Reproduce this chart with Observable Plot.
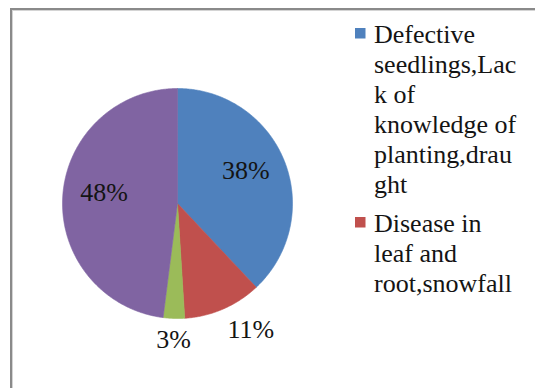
<!DOCTYPE html>
<html>
<head>
<meta charset="utf-8">
<script src="https://cdn.jsdelivr.net/npm/d3@7"></script>
<script src="https://cdn.jsdelivr.net/npm/@observablehq/plot@0.6"></script>
<style>
  html, body { margin: 0; padding: 0; background: #fff; overflow: hidden; }
  #stage { position: relative; width: 535px; height: 388px; overflow: hidden; background: #fff; }
  #frame {
    position: absolute; left: 10px; top: 8px; width: 600px; height: 500px;
    border-left: 2px solid #8a8a8a; border-top: 2px solid #8a8a8a;
    box-shadow: inset 1px 1px 0 #d4d4d4;
  }
  #stage svg { position: absolute; left: 0; top: 0; }
  #stage svg text { font-family: "Liberation Serif", "DejaVu Serif", serif; }
</style>
</head>
<body>
<div id="stage"><div id="frame"></div></div>
<script>
// Causes of seedling loss, share of responses (%)
const categories = [
  "Defective seedlings,Lack of knowledge of planting,draught",
  "Disease in leaf and root,snowfall",
  "Category 3",
  "Category 4"
];
const shares = [38, 11, 3, 48];

// Legend text as it wraps in the legend box (only the first two entries fit)
const legendLines = [
  ["Defective", "seedlings,Lac", "k of", "knowledge of", "planting,drau", "ght"],
  ["Disease in", "leaf and", "root,snowfall"]
];

const palette = ["#4f81bd", "#c0504d", "#9bbb59", "#8064a2"];
const serif = "'Liberation Serif', 'DejaVu Serif', serif";

const data = categories.map((name, i) => ({name, share: shares[i]}));

// Slice angles, clockwise from 12 o'clock
const arcs = d3.pie().sort(null).value(d => d.share)(data);

// Each slice as a closed polygon in unit-circle coordinates (y up)
const outline = arcs.flatMap(a => {
  const n = Math.max(2, Math.ceil((a.endAngle - a.startAngle) / (Math.PI / 360)));
  const pts = [{name: a.data.name, x: 0, y: 0}];
  for (let k = 0; k <= n; ++k) {
    const t = a.startAngle + (a.endAngle - a.startAngle) * k / n;
    pts.push({name: a.data.name, x: Math.sin(t), y: Math.cos(t)});
  }
  pts.push({name: a.data.name, x: 0, y: 0});
  return pts;
});

// Label anchors: large slices inside, small slices just outside the rim
const labels = arcs.map(a => {
  const mid = (a.startAngle + a.endAngle) / 2;
  const inside = a.data.share >= 15;
  const r = inside ? 0.64 : 1 + 11 / 115;
  const s = Math.sin(mid), c = Math.cos(mid);
  return {
    text: `${a.data.share}%`,
    x: r * s, y: r * c, inside,
    textAnchor: inside ? "middle" : s > 0.2 ? "start" : s < -0.2 ? "end" : "middle",
    lineAnchor: inside ? "middle" : c < 0 ? "top" : "bottom"
  };
});

const textStyle = {fontSize: 26, fontFamily: serif, fill: "#141414"};
const outsideMarks = [];
for (const ta of ["start", "middle", "end"]) {
  for (const la of ["top", "bottom"]) {
    outsideMarks.push(Plot.text(labels.filter(d => !d.inside && d.textAnchor === ta && d.lineAnchor === la), {
      x: "x", y: "y", text: "text", textAnchor: ta, lineAnchor: la, ...textStyle
    }));
  }
}

const chart = Plot.plot({
  width: 535,
  height: 388,
  marginLeft: 62,
  marginRight: 243,
  marginTop: 88,
  marginBottom: 70,
  x: {domain: [-1, 1], axis: null},
  y: {domain: [-1, 1], axis: null},
  color: {domain: categories, range: palette},
  style: {background: "transparent", fontFamily: serif},
  marks: [
    Plot.line(outline, {x: "x", y: "y", z: "name", fill: "name", stroke: "name", strokeWidth: 0.6, curve: "linear"}),
    Plot.text(labels.filter(d => d.inside), {
      x: "x", y: "y", text: "text", textAnchor: "middle", lineAnchor: "middle", dy: -6, ...textStyle
    }),
    ...outsideMarks
  ]
});
document.getElementById("stage").appendChild(chart);

// Legend beside the pie
const legend = d3.create("svg")
  .attr("width", 535)
  .attr("height", 388)
  .attr("font-size", 26);
let baseline = 43;
legendLines.forEach((lines, i) => {
  legend.append("rect")
    .attr("x", 355).attr("y", baseline - 15)
    .attr("width", 10.5).attr("height", 10.5)
    .attr("fill", palette[i]);
  const t = legend.append("text").attr("fill", "#141414");
  lines.forEach((line, j) => {
    t.append("tspan").attr("x", 374).attr("y", baseline + j * 30).text(line);
  });
  baseline += (lines.length - 1) * 30 + 39;
});
document.getElementById("stage").appendChild(legend.node());
</script>
</body>
</html>
